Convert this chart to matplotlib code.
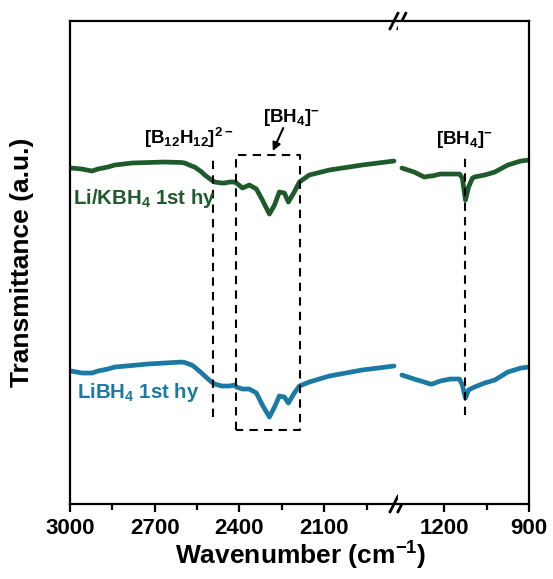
import numpy as np
import matplotlib
matplotlib.use("Agg")
import matplotlib.pyplot as plt

plt.rcParams['font.family'] = 'Liberation Sans'
plt.rcParams['font.weight'] = 'bold'
plt.rcParams['mathtext.fontset'] = 'custom'
plt.rcParams['mathtext.bf'] = 'Liberation Sans:bold'
plt.rcParams['mathtext.rm'] = 'Liberation Sans:bold'
plt.rcParams['mathtext.default'] = 'bf'

# FTIR spectra, values (a.u.)
# high wavenumber segment
wn_hi = [2996, 2958, 2922, 2901, 2866, 2841, 2781, 2725, 2665, 2605, 2594, 2569, 2559,
         2534, 2523, 2499, 2488, 2463, 2453, 2435, 2418, 2411, 2389, 2365, 2340, 2319,
         2294, 2276, 2259, 2241, 2227, 2206, 2188, 2153, 2082, 1966, 1853]
kbh_hi = [3.36, 3.35, 3.33, 3.35, 3.37, 3.39, 3.41, 3.415, 3.42, 3.415, 3.41, 3.38, 3.37,
          3.32, 3.29, 3.24, 3.22, 3.21, 3.21, 3.22, 3.22, 3.21, 3.16, 3.19, 3.15, 3.04,
          2.90, 2.99, 3.12, 3.11, 3.02, 3.12, 3.22, 3.29, 3.34, 3.39, 3.43]
libh_hi = [1.33, 1.31, 1.31, 1.33, 1.35, 1.37, 1.385, 1.40, 1.41, 1.42, 1.415, 1.39, 1.37,
           1.31, 1.28, 1.22, 1.20, 1.18, 1.18, 1.18, 1.19, 1.17, 1.15, 1.15, 1.11, 0.99,
           0.87, 0.97, 1.08, 1.07, 1.01, 1.11, 1.18, 1.22, 1.28, 1.34, 1.38]
# low wavenumber segment
wn_lo = [1350, 1307, 1271, 1250, 1243, 1214, 1179, 1146, 1136, 1125, 1114, 1100, 1093,
         1057, 1021, 975, 929, 900]
kbh_lo = [3.36, 3.32, 3.27, 3.28, 3.28, 3.30, 3.30, 3.30, 3.26, 3.04, 3.17, 3.26, 3.27,
          3.29, 3.32, 3.39, 3.43, 3.44]
libh_lo = [1.29, 1.25, 1.22, 1.20, 1.20, 1.23, 1.25, 1.25, 1.19, 1.06, 1.14, 1.16, 1.17,
           1.21, 1.24, 1.32, 1.36, 1.37]

green = '#1e5a2b'
blue = '#1a7aa3'

fig = plt.figure(figsize=(5.53, 5.79), dpi=100)
gs = fig.add_gridspec(1, 2, width_ratios=[1161, 464], wspace=0,
                      left=0.1266, right=0.9566, bottom=0.1295, top=0.9637)
ax1 = fig.add_subplot(gs[0])
ax2 = fig.add_subplot(gs[1], sharey=ax1)

line_kw = dict(lw=3.4, solid_joinstyle='round', solid_capstyle='round')
ax1.plot(wn_hi, kbh_hi, color=green, **line_kw)
ax1.plot(wn_hi, libh_hi, color=blue, **line_kw)
ax2.plot(wn_lo, kbh_lo, color=green, **line_kw)
ax2.plot(wn_lo, libh_lo, color=blue, **line_kw)

ax1.set_xlim(3000, 1839)
ax2.set_xlim(1364, 900)
ax1.set_ylim(0, 4.83)

ax1.set_xticks([3000, 2700, 2400, 2100])
ax1.set_xticks([2850, 2550, 2250, 1950], minor=True)
ax2.set_xticks([1200, 900])
ax2.set_xticks([1050], minor=True)

for ax in (ax1, ax2):
    for s in ax.spines.values():
        s.set_linewidth(1.6)
    ax.tick_params(axis='x', which='major', direction='out', length=6, width=1.6,
                   labelsize=16, pad=4)
    ax.tick_params(axis='x', which='minor', direction='out', length=4, width=1.6)
    ax.tick_params(axis='y', left=False, labelleft=False, right=False)
ax1.spines['right'].set_visible(False)
ax2.spines['left'].set_visible(False)

# break marks
for y in (0, 1):
    for dx in (-0.012, 0.012):
        ax1.plot([1 + dx - 0.012, 1 + dx + 0.012], [y - 0.016, y + 0.016],
                 transform=ax1.transAxes, color='black', lw=2, clip_on=False)

fig.text(0.04, 0.547, 'Transmittance (a.u.)', rotation=90, ha='center', va='center',
         fontsize=19, fontweight='bold')
fig.text(0.5434, 0.04, 'Wavenumber (cm$^{-1}$)', ha='center', va='center',
         fontsize=19, fontweight='bold')

# dashed guides
dash = dict(color='black', lw=1.5, ls=(0, (4, 3)))
ax1.plot([2492, 2492], [0.87, 3.47], **dash)
ax1.plot([2414, 2414, 2185, 2185, 2414], [0.74, 3.49, 3.49, 0.74, 0.74], **dash)
ax2.plot([1125, 1125], [0.89, 3.49], **dash)

ax1.text(2580, 3.66, r'[B$_{12}$H$_{12}$]$^{2-}$', ha='center', va='center', fontsize=13.5)
ax1.text(2216, 3.87, r'[BH$_4$]$^{-}$', ha='center', va='center', fontsize=13.5)
ax1.annotate('', xy=(2282, 3.53), xytext=(2245, 3.76),
             arrowprops=dict(arrowstyle='-|>', color='black', lw=1.5, mutation_scale=12,
                             shrinkA=0, shrinkB=0))
ax2.text(1130, 3.65, r'[BH$_4$]$^{-}$', ha='center', va='center', fontsize=13.5)

ax1.text(2990, 3.06, r'Li/KBH$_4$ 1st hy', color=green, ha='left', va='center', fontsize=14.7)
ax1.text(2975, 1.12, r'LiBH$_4$ 1st hy', color=blue, ha='left', va='center', fontsize=14.7)

fig.savefig('out.png', dpi=100)
